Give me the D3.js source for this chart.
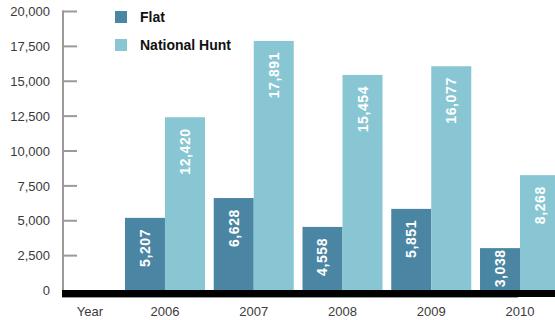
<!DOCTYPE html>
<html>
<head>
<meta charset="utf-8">
<script src="https://cdn.jsdelivr.net/npm/d3@7"></script>
<style>
  html, body { margin: 0; padding: 0; background: #fff; }
  svg { display: block; }
</style>
</head>
<body>
<svg id="chart" width="555" height="320"></svg>
<script>
// Runners per year, by racing code
const years = ["2006", "2007", "2008", "2009", "2010"];
const flat = [5207, 6628, 4558, 5851, 3038];
const nationalHunt = [12420, 17891, 15454, 16077, 8268];
const seriesNames = ["Flat", "National Hunt"];
const yTicks = [0, 2500, 5000, 7500, 10000, 12500, 15000, 17500, 20000];

const colors = { "Flat": "#4a86a3", "National Hunt": "#88c6d3" };
const W = 555, H = 320;
const svg = d3.select("#chart");

const y = d3.scaleLinear().domain([0, 20000]).range([290.5, 11.5]);
const x = d3.scaleBand().domain(years).range([120.6, 564.4])
  .paddingInner(0.0986).paddingOuter(0.0493);
const xs = d3.scaleBand().domain(seriesNames).range([0, x.bandwidth()]);

const rows = years.map((yr, i) => ({ year: yr, values: [
  { key: "Flat", value: flat[i] },
  { key: "National Hunt", value: nationalHunt[i] }
]}));

const fmt = d3.format(",");

// Bars
const g = svg.append("g");
const groups = g.selectAll("g.year").data(rows).join("g")
  .attr("transform", d => `translate(${x(d.year)},0)`);
groups.selectAll("rect").data(d => d.values).join("rect")
  .attr("x", d => xs(d.key))
  .attr("width", xs.bandwidth())
  .attr("y", d => y(d.value))
  .attr("height", d => y(0) - y(d.value))
  .attr("fill", d => colors[d.key]);

// Value labels, rotated inside the top of each bar (centred when the bar is short)
const labelLen = 40;
groups.selectAll("text").data(d => d.values).join("text")
  .attr("transform", d => {
    const h = y(0) - y(d.value);
    const top = h < labelLen + 16 ? y(d.value) + (h - labelLen) / 2 : y(d.value) + 11;
    return `translate(${xs(d.key) + xs.bandwidth() / 2 + 5},${top}) rotate(-90)`;
  })
  .attr("text-anchor", "end")
  .attr("fill", "#fff")
  .attr("font-family", "Liberation Sans, Arial, sans-serif")
  .attr("font-weight", "bold")
  .attr("font-size", 14)
  .attr("letter-spacing", 0.6)
  .text(d => fmt(d.value));

// Y axis
const yAxis = d3.axisLeft(y).tickValues(yTicks).tickFormat(d => fmt(d)).tickSize(0).tickPadding(12);
const ya = svg.append("g").attr("transform", "translate(62,0)").call(yAxis);
ya.select(".domain").remove();
ya.selectAll("text")
  .attr("fill", "#3a3a3a")
  .attr("font-family", "Liberation Sans, Arial, sans-serif")
  .attr("font-size", 13);
svg.append("line").attr("x1", 63).attr("x2", 63).attr("y1", y(20000) - 1).attr("y2", y(0))
  .attr("stroke", "#9a9a9a").attr("stroke-width", 2);
svg.append("g").selectAll("line").data(yTicks.filter(t => t > 0)).join("line")
  .attr("x1", 62).attr("x2", 77).attr("y1", d => y(d)).attr("y2", d => y(d))
  .attr("stroke", "#9a9a9a").attr("stroke-width", 2);

// Baseline
svg.append("rect").attr("x", 62).attr("y", 290).attr("width", W - 62).attr("height", 7).attr("fill", "#000");
svg.append("line").attr("x1", 62).attr("x2", 518).attr("y1", 297.5).attr("y2", 297.5)
  .attr("stroke", "#9a9a9a").attr("stroke-width", 1);

// X axis labels
const xAxis = d3.axisBottom(x).tickSize(0).tickPadding(0);
const xa = svg.append("g").attr("transform", "translate(0,316)").call(xAxis);
xa.select(".domain").remove();
xa.selectAll("text")
  .attr("dy", 0)
  .attr("fill", "#3a3a3a")
  .attr("font-family", "Liberation Sans, Arial, sans-serif")
  .attr("font-size", 13);
svg.append("text").attr("x", 90).attr("y", 316).attr("text-anchor", "middle")
  .attr("fill", "#3a3a3a").attr("font-family", "Liberation Sans, Arial, sans-serif")
  .attr("font-size", 13).text("Year");

// Legend
const legend = svg.append("g").selectAll("g").data(seriesNames).join("g")
  .attr("transform", (d, i) => `translate(115,${11 + i * 28})`);
legend.append("rect").attr("width", 12).attr("height", 12).attr("fill", d => colors[d]);
legend.append("text").attr("x", 25).attr("y", 11)
  .attr("font-family", "Liberation Sans, Arial, sans-serif")
  .attr("font-weight", "bold").attr("font-size", 14).attr("fill", "#111")
  .text(d => d);
</script>
</body>
</html>
